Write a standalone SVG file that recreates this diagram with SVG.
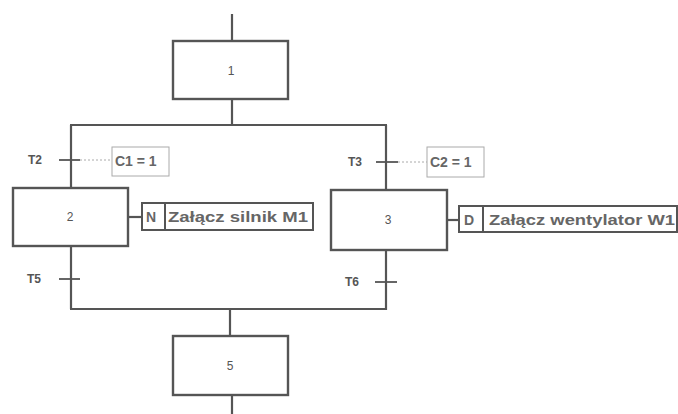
<svg xmlns="http://www.w3.org/2000/svg" width="678" height="414" viewBox="0 0 678 414">
<style>
.ln{stroke:#555;stroke-width:2.2;fill:none}
.st{fill:#fff;stroke:#555;stroke-width:2.4}
.tk{stroke:#555;stroke-width:1.8}
.dot{stroke:#aaa;stroke-width:1;stroke-dasharray:2 2}
.cb{fill:#fff;stroke:#aaa;stroke-width:1}
.ab{fill:#fff;stroke:#555;stroke-width:2}
.num{font-family:"Liberation Sans",Arial,sans-serif;font-size:12px;fill:#555;text-anchor:middle}
.tl{font-family:"Liberation Sans",Arial,sans-serif;font-size:12px;font-weight:bold;fill:#555}
.ct{font-family:"Liberation Sans",Arial,sans-serif;font-size:14px;font-weight:bold;fill:#666}
.at{font-family:"Liberation Sans",Arial,sans-serif;font-size:14px;font-weight:bold;fill:#666}
</style>
<rect width="678" height="414" fill="#fff"/>
<g id="connectors">
<line class="ln" x1="232" y1="14" x2="232" y2="41"/>
<line class="ln" x1="232" y1="99" x2="232" y2="125"/>
<line class="ln" x1="70" y1="125" x2="387" y2="125"/>
<line class="ln" x1="71" y1="125" x2="71" y2="188"/>
<line class="ln" x1="386" y1="125" x2="386" y2="190"/>
<line class="ln" x1="71" y1="246" x2="71" y2="309"/>
<line class="ln" x1="386" y1="250" x2="386" y2="310"/>
<line class="ln" x1="70" y1="309" x2="387" y2="309"/>
<line class="ln" x1="230" y1="309" x2="230" y2="336"/>
<line class="ln" x1="232" y1="395" x2="232" y2="414"/>
<line class="ln" x1="128" y1="217" x2="142" y2="217"/>
<line class="ln" x1="447" y1="220" x2="459" y2="220"/>
</g>
<g id="T2">
<line class="tk" x1="59" y1="160" x2="80" y2="160"/>
<text class="tl" x="28" y="164">T2</text>
<line class="dot" x1="80" y1="160" x2="112" y2="160"/>
</g>
<g id="C1">
<rect class="cb" x="112" y="147" width="57" height="29"/>
<text class="ct" x="115" y="166">C1 = 1</text>
</g>
<g id="T3">
<line class="tk" x1="376" y1="162" x2="398" y2="162"/>
<text class="tl" x="348" y="166">T3</text>
<line class="dot" x1="398" y1="162" x2="427" y2="162"/>
</g>
<g id="C2">
<rect class="cb" x="427" y="147" width="57" height="30"/>
<text class="ct" x="430" y="167">C2 = 1</text>
</g>
<g id="T5">
<line class="tk" x1="59" y1="279" x2="80" y2="279"/>
<text class="tl" x="27" y="283">T5</text>
</g>
<g id="T6">
<line class="tk" x1="375" y1="282" x2="397" y2="282"/>
<text class="tl" x="345" y="286">T6</text>
</g>
<g id="step1">
<rect class="st" x="173" y="41" width="115" height="58"/>
<text class="num" x="231" y="75">1</text>
</g>
<g id="step2">
<rect class="st" x="13" y="188" width="115" height="58"/>
<text class="num" x="70" y="221">2</text>
</g>
<g id="step3">
<rect class="st" x="331" y="190" width="116" height="60"/>
<text class="num" x="388" y="224">3</text>
</g>
<g id="step5">
<rect class="st" x="173" y="336" width="115" height="59"/>
<text class="num" x="230" y="370">5</text>
</g>
<g id="action2">
<rect class="ab" x="142" y="203" width="171" height="27"/>
<line class="ab" x1="165" y1="203" x2="165" y2="230"/>
<text class="at" x="146" y="222">N</text>
<text class="at" x="168" y="222" textLength="140" lengthAdjust="spacingAndGlyphs">Załącz silnik M1</text>
</g>
<g id="action3">
<rect class="ab" x="459" y="206" width="218" height="26"/>
<line class="ab" x1="483" y1="206" x2="483" y2="232"/>
<text class="at" x="464" y="225" font-weight="normal">D</text>
<text class="at" x="489" y="225" textLength="186" lengthAdjust="spacingAndGlyphs">Załącz wentylator W1</text>
</g>
</svg>
